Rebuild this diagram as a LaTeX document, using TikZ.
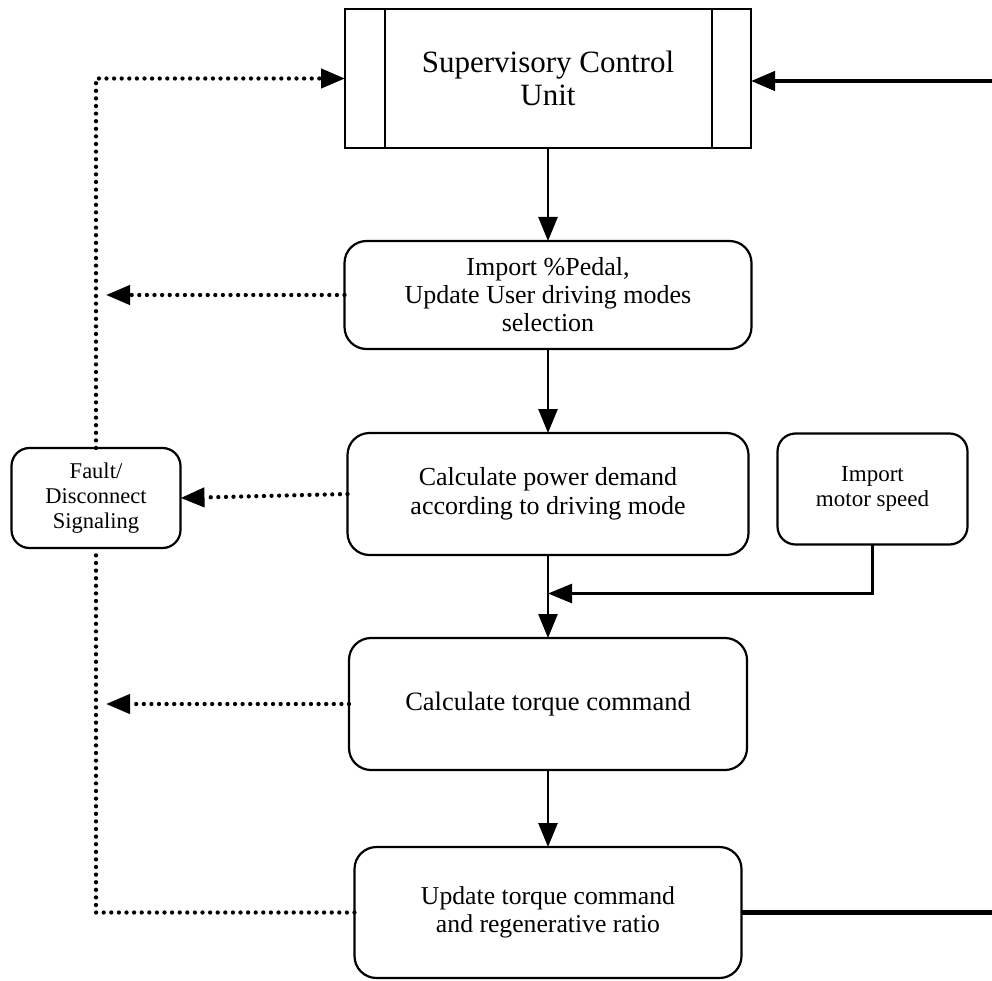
\documentclass[tikz,border=0pt]{standalone}
\usepackage{fontspec}
\setmainfont{Liberation Serif}
\usetikzlibrary{arrows.meta, positioning, calc}

\begin{document}
\begin{tikzpicture}[
  x=1pt, y=1pt, >={Triangle[length=24pt, width=19pt]},
  node distance=80pt and 30pt,
  procbox/.style={
    draw, line width=2.2pt, inner sep=0pt, outer sep=0pt, align=center,
    minimum width=406pt, minimum height=139pt
  },
  stepbox/.style={
    draw, line width=2.2pt, rounded corners=22pt,
    inner sep=0pt, outer sep=0pt, align=center, minimum width=402pt
  },
  sidebox/.style={
    draw, line width=2.2pt, rounded corners=18pt,
    inner sep=0pt, outer sep=0pt, align=center
  },
  flowarrow/.style={->, line width=2.6pt},
  feedline/.style={line width=4.4pt},
  sigline/.style={line width=4.3pt, line cap=round, dash pattern=on 0pt off 7.6pt},
  sigarrow/.style={sigline, ->},
]
\useasboundingbox (0,0) rectangle (992,-981);
% --- Supervisory unit ---
\node[procbox, font=\fontsize{31}{33}\selectfont] (scu) at (548,-78.5)
  {Supervisory Control\\Unit};
\draw[line width=2.2pt] ([xshift=40pt]scu.north west) -- ([xshift=40pt]scu.south west);
\draw[line width=2.2pt] ([xshift=-39pt]scu.north east) -- ([xshift=-39pt]scu.south east);
% --- Main column ---
\node[stepbox, below=93pt of scu, minimum width=407pt, minimum height=108pt,
  font=\fontsize{26}{28}\selectfont] (pedal)
  {Import \%Pedal,\\Update User driving modes\\selection};
\node[stepbox, below=84pt of pedal, minimum width=401pt, minimum height=122pt,
  font=\fontsize{26}{29}\selectfont] (power)
  {Calculate power demand\\according to driving mode};
\node[stepbox, below=83pt of power, minimum width=398pt, minimum height=132pt,
  font=\fontsize{26.5}{29}\selectfont] (torque)
  {Calculate torque command};
\node[stepbox, below=77pt of torque, minimum width=387pt, minimum height=131pt,
  font=\fontsize{25.7}{28}\selectfont] (update)
  {Update torque command\\and regenerative ratio};
\draw[flowarrow] (scu.south) -- (pedal.north);
\draw[flowarrow] (pedal.south) -- (power.north);
\draw[flowarrow] (power.south) -- (torque.north);
\draw[flowarrow] (torque.south) -- (update.north);
% --- Side boxes ---
\node[sidebox, right=29pt of power, yshift=5pt, minimum width=190pt, minimum height=111pt,
  font=\fontsize{23}{25}\selectfont] (motor)
  {Import\\motor speed};
\node[sidebox, left=167pt of power, yshift=-4pt, minimum width=169pt, minimum height=100pt,
  font=\fontsize{22.5}{25}\selectfont] (fault)
  {Fault/\\Disconnect\\Signaling};
\coordinate (join) at ($(power.south)!0.5!(torque.north)$);
\draw[flowarrow] (motor.south) |- ([yshift=3pt]join);
% --- Fault signals ---
\coordinate (sigend) at ([xshift=10pt]fault.north);
\draw[sigarrow] (pedal.west) -- (pedal.west -| sigend);
\draw[sigarrow] (power.west) -- (fault.east);
\draw[sigarrow] (torque.west) -- (torque.west -| sigend);
\draw[sigline] (update.west) -| (fault.south);
\draw[sigarrow] (fault.north) |- (scu.west);
% --- Feedback to supervisory unit ---
\coordinate (rtop) at (992,-81);
\draw[feedline, ->] (rtop) -- (rtop -| scu.east);
\draw[feedline] (update.east) -- (update.east -| rtop);
\end{tikzpicture}
\end{document}
